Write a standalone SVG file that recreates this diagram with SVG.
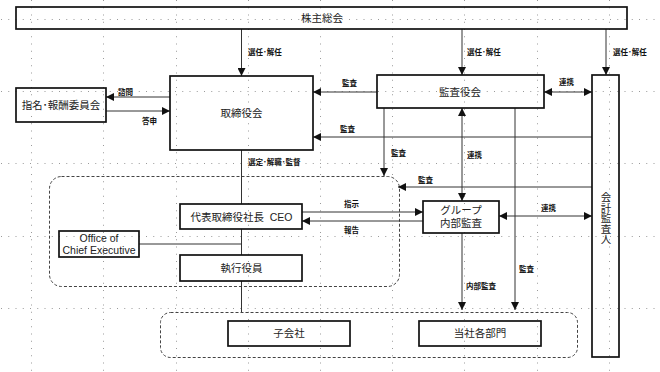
<svg xmlns="http://www.w3.org/2000/svg" width="660" height="372" viewBox="0 0 660 372">
<defs>
<style>
.grid line{stroke:#9a9a9a;stroke-width:1;stroke-dasharray:1 6.25}
.box{fill:none;stroke:#111;stroke-width:1.7}
.grp{fill:none;stroke:#444;stroke-width:1;stroke-dasharray:3 2}
.cn line{stroke:#333;stroke-width:1;fill:none}
.t{font-family:"Liberation Sans","Noto Sans CJK JP",sans-serif;font-size:10.5px;fill:#222;text-anchor:middle}
.s{font-family:"Liberation Sans","Noto Sans CJK JP",sans-serif;font-size:7.5px;fill:#111;font-weight:bold}
</style>
<marker id="ah" viewBox="0 0 8 8" refX="8" refY="4" markerWidth="8" markerHeight="8" markerUnits="userSpaceOnUse" orient="auto-start-reverse">
<path d="M0,0 L8,4 L0,8 z" fill="#111"/>
</marker>
</defs>
<rect width="660" height="372" fill="#fff"/>
<g class="grid">
<line x1="31.5" y1="0" x2="31.5" y2="372"/>
<line x1="103.5" y1="0" x2="103.5" y2="372"/>
<line x1="176.5" y1="0" x2="176.5" y2="372"/>
<line x1="248.5" y1="0" x2="248.5" y2="372"/>
<line x1="320.5" y1="0" x2="320.5" y2="372"/>
<line x1="392.5" y1="0" x2="392.5" y2="372"/>
<line x1="464.5" y1="0" x2="464.5" y2="372"/>
<line x1="537.5" y1="0" x2="537.5" y2="372"/>
<line x1="609.5" y1="0" x2="609.5" y2="372"/>
<line x1="1" y1="19.5" x2="660" y2="19.5"/>
<line x1="1" y1="91.5" x2="660" y2="91.5"/>
<line x1="1" y1="163.5" x2="660" y2="163.5"/>
<line x1="1" y1="236.5" x2="660" y2="236.5"/>
<line x1="1" y1="308.5" x2="660" y2="308.5"/>
</g>
<g id="exec-group"><rect class="grp" x="49.5" y="176.5" width="350" height="110" rx="12"/></g>
<g id="dept-group"><rect class="grp" x="160.5" y="312.5" width="417" height="45" rx="10"/></g>
<g class="cn" id="connectors">
<line x1="241.5" y1="29" x2="241.5" y2="76" marker-end="url(#ah)"/>
<line x1="462" y1="29" x2="462" y2="75" marker-end="url(#ah)"/>
<line x1="606" y1="29" x2="606" y2="75" marker-end="url(#ah)"/>
<line x1="170" y1="97" x2="106" y2="97" marker-end="url(#ah)"/>
<line x1="106" y1="111" x2="170" y2="111" marker-end="url(#ah)"/>
<line x1="377" y1="92" x2="313" y2="92" marker-end="url(#ah)"/>
<line x1="592" y1="137" x2="313" y2="137" marker-end="url(#ah)"/>
<line x1="384" y1="108" x2="384" y2="176" marker-end="url(#ah)"/>
<line x1="592" y1="187" x2="398" y2="187" marker-end="url(#ah)"/>
<line x1="544" y1="92" x2="592" y2="92" marker-start="url(#ah)" marker-end="url(#ah)"/>
<line x1="462" y1="108" x2="462" y2="201" marker-start="url(#ah)" marker-end="url(#ah)"/>
<line x1="515" y1="108" x2="515" y2="310" marker-end="url(#ah)"/>
<line x1="499" y1="216" x2="592" y2="216" marker-start="url(#ah)" marker-end="url(#ah)"/>
<line x1="302" y1="212" x2="423" y2="212" marker-end="url(#ah)"/>
<line x1="423" y1="221" x2="302" y2="221" marker-end="url(#ah)"/>
<line x1="462" y1="233" x2="462" y2="310" marker-end="url(#ah)"/>
<line x1="241.5" y1="150" x2="241.5" y2="204"/>
<line x1="241.5" y1="229" x2="241.5" y2="255"/>
<line x1="241.5" y1="281" x2="241.5" y2="312"/>
<line x1="139" y1="244" x2="241.5" y2="244"/>
<text class="s" x="248" y="55">選任･解任</text>
<text class="s" x="467" y="55">選任･解任</text>
<text class="s" x="613" y="55">選任･解任</text>
<text class="s" x="118" y="95">諮問</text>
<text class="s" x="142" y="124">答申</text>
<text class="s" x="342" y="86">監査</text>
<text class="s" x="340" y="132">監査</text>
<text class="s" x="391" y="156">監査</text>
<text class="s" x="418" y="183">監査</text>
<text class="s" x="559" y="85">連携</text>
<text class="s" x="467" y="158">連携</text>
<text class="s" x="519" y="272">監査</text>
<text class="s" x="541" y="211">連携</text>
<text class="s" x="344" y="207">指示</text>
<text class="s" x="344" y="233">報告</text>
<text class="s" x="466" y="289">内部監査</text>
<text class="s" x="248" y="165">選定･解職･監督</text>
</g>
<g id="shareholders"><rect class="box" x="16" y="7" width="611" height="22"/><text class="t" x="322" y="22">株主総会</text></g>
<g id="board"><rect class="box" x="170" y="76" width="143" height="74"/><text class="t" x="241.5" y="117">取締役会</text></g>
<g id="nomination"><rect class="box" x="16" y="88" width="90" height="34"/><text class="t" x="61" y="109">指名･報酬委員会</text></g>
<g id="audit-board"><rect class="box" x="377" y="75" width="167" height="33"/><text class="t" x="460" y="96">監査役会</text></g>
<g id="accounting-auditor"><rect class="box" x="592" y="75" width="27" height="282"/><text class="t" x="605.5" y="192" style="writing-mode:vertical-rl;text-anchor:start" font-size="10.5">会計監査人</text></g>
<g id="ceo"><rect class="box" x="180" y="204" width="122" height="25"/><text class="t" x="241.5" y="220.5">代表取締役社長&#160; CEO</text></g>
<g id="officers"><rect class="box" x="180" y="255" width="122" height="26"/><text class="t" x="241.5" y="272">執行役員</text></g>
<g id="office-ce"><rect class="box" x="59" y="231" width="80" height="26"/><text class="t" x="99" y="242" font-size="10">Office of</text><text class="t" x="99" y="253.5" font-size="10">Chief Executive</text></g>
<g id="group-audit"><rect class="box" x="423" y="201" width="76" height="32"/><text class="t" x="461" y="214">グループ</text><text class="t" x="461" y="227">内部監査</text></g>
<g id="subsidiaries"><rect class="box" x="228" y="321" width="122" height="25"/><text class="t" x="289" y="337">子会社</text></g>
<g id="departments"><rect class="box" x="419" y="321" width="122" height="25"/><text class="t" x="480" y="337">当社各部門</text></g>
</svg>
